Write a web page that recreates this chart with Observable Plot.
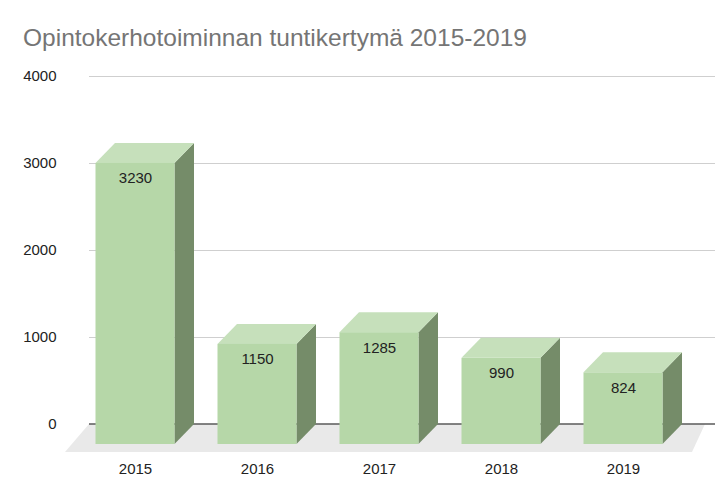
<!DOCTYPE html>
<html><head><meta charset="utf-8">
<script src="https://cdn.jsdelivr.net/npm/d3@7"></script>
<script src="https://cdn.jsdelivr.net/npm/@observablehq/plot@0.6"></script>
<style>
body{margin:0;background:#fff;}
#wrap{position:relative;width:715px;height:502px;overflow:hidden;}
#title{position:absolute;left:23px;top:26px;font-family:"Liberation Sans",Arial,sans-serif;font-size:24.5px;line-height:24px;color:#757575;white-space:nowrap;z-index:2;}
#chart{position:absolute;left:0;top:0;}
</style></head><body>
<div id="wrap"><div id="title">Opintokerhotoiminnan tuntikertymä 2015-2019</div><div id="chart"></div></div>
<script>
const years = ["2015", "2016", "2017", "2018", "2019"];
const hours = [3230, 1150, 1285, 990, 824];
const yTicks = [0, 1000, 2000, 3000, 4000];

const data = years.map((year, i) => ({year, hours: hours[i]}));

const DX = 19.5, DY = 20; // 3D depth offset (px)
const FRONT = "#b6d7a8", TOP = "#c6e0bb", SIDE = "#758c69";

function floorMark(index, scales, values, dims) {
  const sy = scales.y;
  const y0 = sy(0);
  const fl = dims.marginLeft, fr = dims.width - dims.marginRight - 10;
  const g = d3.create("svg:g");
  g.append("path")
    .attr("d", `M${fl},${y0}L${fr},${y0}L${fr - 13},${y0 + 28}L${fl - 24},${y0 + 28}Z`)
    .attr("fill", "#e9e9e9");
  g.append("line")
    .attr("x1", fl).attr("x2", dims.width - dims.marginRight)
    .attr("y1", y0).attr("y2", y0)
    .attr("stroke", "#5a5a5a").attr("stroke-width", 1.5);
  return g.node();
}

function bars3d(index, scales, values, dims) {
  const sx = scales.x, sy = scales.y;
  const bw = typeof sx.bandwidth === "function" ? sx.bandwidth() : sx.bandwidth;
  const y0 = sy(0);
  const g = d3.create("svg:g");
  for (const d of data) {
    const xb = sx(d.year), yt = sy(d.hours);
    g.append("path")
      .attr("d", `M${xb + bw - DX},${yt + DY}L${xb + bw},${yt}L${xb + bw},${y0}L${xb + bw - DX},${y0 + DY}Z`)
      .attr("fill", SIDE);
    g.append("path")
      .attr("d", `M${xb - DX},${yt + DY}L${xb},${yt}L${xb + bw},${yt}L${xb + bw - DX},${yt + DY}Z`)
      .attr("fill", TOP);
    g.append("rect")
      .attr("x", xb - DX).attr("y", yt + DY)
      .attr("width", bw).attr("height", y0 - yt)
      .attr("fill", FRONT);
  }
  return g.node();
}

const chart = Plot.plot({
  width: 715,
  height: 502,
  marginLeft: 89,
  marginRight: 0,
  marginTop: 76,
  marginBottom: 78,
  style: {fontFamily: "Liberation Sans, Arial, sans-serif", fontSize: "15px", color: "#222", background: "#fff"},
  x: {type: "band", domain: years, range: [94, 704], paddingInner: 0.352, paddingOuter: 0.176, align: 0.5},
  y: {domain: [0, 4000]},
  marks: [
    Plot.ruleY(yTicks.filter(v => v > 0), {stroke: "#cfcfcf", strokeWidth: 1}),
    floorMark,
    Plot.barY(data, {x: "year", y: "hours", fill: "none"}),
    bars3d,
    Plot.text(data, {x: "year", y: "hours", text: d => String(d.hours), dx: -DX, dy: 35, fontSize: 15, fill: "#222"}),
    Plot.axisY({ticks: yTicks, tickFormat: d => String(d), tickSize: 0, tickPadding: 33, label: null, fontSize: 15, fill: "#222"}),
    Plot.axisX({tickSize: 0, tickPadding: 39, dx: -DX, label: null, fontSize: 15, fill: "#222"})
  ]
});
document.getElementById("chart").append(chart);
</script>
</body></html>
